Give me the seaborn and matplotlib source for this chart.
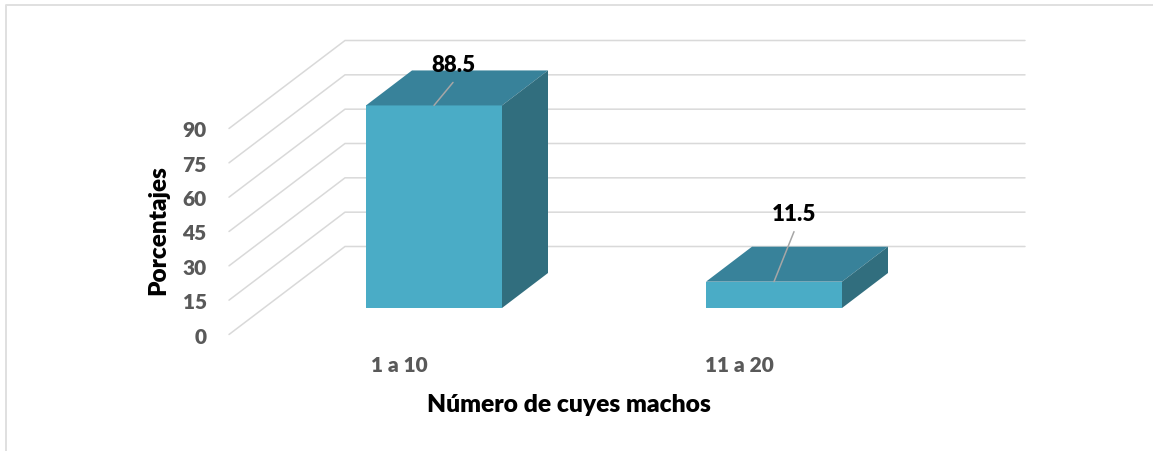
"""Percentage of male guinea pigs per group, drawn as a pseudo 3D bar chart."""

import matplotlib

matplotlib.use("Agg")
import matplotlib.pyplot as plt
import seaborn as sns
from matplotlib.lines import Line2D
from matplotlib.patches import Polygon

categories = ["1 a 10", "11 a 20"]
percentages = [88.5, 11.5]
value_labels = ["88.5", "11.5"]
y_ticks = [0, 15, 30, 45, 60, 75, 90]

WIDTH, HEIGHT = 1153, 452
GRID = "#D9D9D9"
TICK_TEXT = "#595959"
FRONT = "#4AACC6"
TOP = "#38829A"
SIDE = "#316E7E"

# pixels per unit on both axes
PX_X = 340
PX_Y = 206 / 90


def px_axes(fig, left, bottom_y, right, top_y):
    return fig.add_axes(
        [
            left / WIDTH,
            1 - bottom_y / HEIGHT,
            (right - left) / WIDTH,
            (bottom_y - top_y) / HEIGHT,
        ]
    )


def draw_walls(ax):
    wall_dx = 116 / PX_X
    wall_dy = 88 / PX_Y
    for tick in y_ticks:
        ax.plot(
            [-0.5, -0.5 + wall_dx, 1.5 + wall_dx],
            [tick, tick + wall_dy, tick + wall_dy],
            color=GRID,
            lw=1.1,
            clip_on=False,
            solid_joinstyle="miter",
        )


def draw_depth(ax):
    dx = 46 / PX_X
    dy = 35 / PX_Y
    for bar in ax.patches[:]:
        x0, x1 = bar.get_x(), bar.get_x() + bar.get_width()
        h = bar.get_height()
        ax.add_patch(
            Polygon(
                [(x0, h), (x1, h), (x1 + dx, h + dy), (x0 + dx, h + dy)],
                facecolor=TOP,
                edgecolor="none",
                clip_on=False,
            )
        )
        ax.add_patch(
            Polygon(
                [(x1, 0), (x1 + dx, dy), (x1 + dx, h + dy), (x1, h)],
                facecolor=SIDE,
                edgecolor="none",
                clip_on=False,
            )
        )


def draw_labels(ax):
    leader_px = [(19, 23), (20, 50)]
    for i, (value, label) in enumerate(zip(percentages, value_labels)):
        end_x = i + leader_px[i][0] / PX_X
        end_y = value + leader_px[i][1] / PX_Y
        ax.plot([i, end_x], [value, end_y], color="#A6A6A6", lw=1.1, clip_on=False)
        ax.text(
            end_x,
            end_y + 18 / PX_Y,
            label,
            ha="center",
            va="center",
            fontsize=16,
            fontweight="heavy",
            color="black",
        )


sns.set_theme(style="white")
plt.rcParams["font.family"] = ["Lato", "DejaVu Sans"]

fig = plt.figure(figsize=(WIDTH / 100, HEIGHT / 100), dpi=100)

# front plane: carries the ticks, the axis titles and the wall lines
ax = px_axes(fig, 229, 335.5, 909, 129.5)
ax.set_xlim(-0.5, 1.5)
ax.set_ylim(0, 90)
ax.set_xticks(range(len(categories)), categories)
ax.set_yticks(y_ticks)
ax.tick_params(axis="y", length=0, pad=16, labelsize=15, labelcolor=TICK_TEXT)
ax.tick_params(axis="x", length=0, pad=15, labelsize=15, labelcolor=TICK_TEXT)
for label in ax.get_xticklabels() + ax.get_yticklabels():
    label.set_fontweight("heavy")
sns.despine(ax=ax, left=True, bottom=True)
ax.patch.set_visible(False)
draw_walls(ax)
ax.set_xlabel("Número de cuyes machos", fontsize=17.7, fontweight="heavy", color="black")
ax.xaxis.set_label_coords(0.5, -70 / 206, transform=ax.transAxes)
ax.xaxis.label.set_va("center")
ax.set_ylabel("Porcentajes", fontsize=17.5, fontweight="heavy", color="black")
ax.yaxis.set_label_coords(-71 / 680, 0.51)
ax.yaxis.label.set_va("center")

# bars sit further back on the floor, so they get their own shifted axes
ax_bar = px_axes(fig, 264, 309, 944, 103)
sns.barplot(
    x=categories,
    y=percentages,
    color=FRONT,
    saturation=1,
    width=0.4,
    linewidth=0,
    edgecolor="none",
    ax=ax_bar,
)
ax_bar.set_xlim(-0.5, 1.5)
ax_bar.set_ylim(0, 90)
ax_bar.axis("off")
draw_depth(ax_bar)
draw_labels(ax_bar)

fig.add_artist(
    Line2D(
        [5.5 / WIDTH, 5.5 / WIDTH, 1],
        [0, 1 - 6 / HEIGHT, 1 - 6 / HEIGHT],
        color="#E0E0E0",
        lw=1.4,
    )
)

fig.savefig("out.png", dpi=100)
plt.close(fig)
